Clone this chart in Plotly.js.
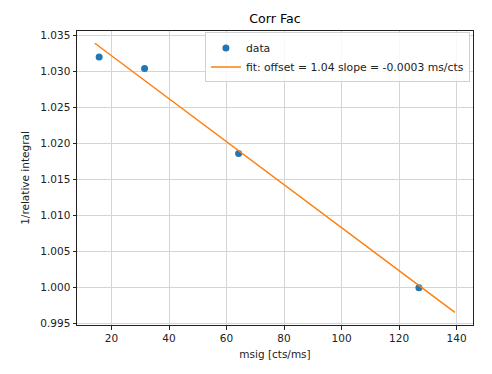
<!DOCTYPE html>
<html><head><meta charset="utf-8">
<script src="https://cdn.plot.ly/plotly-3.0.1.min.js"></script>
<style>body{margin:0;padding:0;background:#fff}#chart{width:492px;height:374px}</style>
</head><body><div id="chart"></div>
<script>
const msig = [15.7, 31.5, 64.2, 126.9];
const invRelIntegral = [1.0320, 1.0304, 1.0186, 1.0000];
const fitX = [14.2, 139.4];
const fitY = [1.0339, 0.99658];
const xTicks = [20, 40, 60, 80, 100, 120, 140];
const yTicks = [0.995, 1.000, 1.005, 1.010, 1.015, 1.020, 1.025, 1.030, 1.035];

const font = {family: 'DejaVu Sans, sans-serif', size: 10.5, color: '#222'};
const legendFont = {family: 'DejaVu Sans, sans-serif', size: 10.8, color: '#222'};
const data = [
  {x: msig, y: invRelIntegral, type: 'scatter', mode: 'markers', name: 'data',
   marker: {color: '#1f77b4', size: 7}},
  {x: fitX, y: fitY, type: 'scatter', mode: 'lines', name: 'fit: offset = 1.04 slope = -0.0003 ms/cts',
   line: {color: '#ff7f0e', width: 1.5}}
];
const axisCommon = {
  showline: true, mirror: true, linecolor: '#222', linewidth: 1,
  ticks: 'outside', ticklen: 3.5, tickcolor: '#222', tickwidth: 1,
  showgrid: true, gridcolor: '#d5d5d5', gridwidth: 1, zeroline: false,
  tickfont: font
};
const layout = {
  width: 492, height: 374,
  margin: {l: 77, r: 19, t: 31, b: 49},
  paper_bgcolor: '#fff', plot_bgcolor: '#fff',
  font: font,
  title: {text: 'Corr Fac', font: {family: 'DejaVu Sans, sans-serif', size: 12.6, color: '#000'},
          x: 0.559, xanchor: 'center', y: 0.951, yanchor: 'middle'},
  xaxis: Object.assign({}, axisCommon, {range: [8.0, 145.7], tickvals: xTicks,
    ticktext: xTicks.map(String),
    title: {text: 'msig [cts/ms]', font: font, standoff: 7}}),
  yaxis: Object.assign({}, axisCommon, {range: [0.99482, 1.0356], tickvals: yTicks,
    ticktext: yTicks.map(v => v.toFixed(3)),
    title: {text: '1/relative integral', font: font, standoff: 8}}),
  showlegend: true,
  legend: {x: 0.323, xanchor: 'left', y: 0.995, yanchor: 'top',
    bgcolor: 'rgba(255,255,255,0.85)', bordercolor: '#d0d0d0', borderwidth: 1,
    font: legendFont, tracegroupgap: 0, itemwidth: 30}
};
Plotly.newPlot('chart', data, layout, {staticPlot: true, displayModeBar: false});
</script></body></html>
